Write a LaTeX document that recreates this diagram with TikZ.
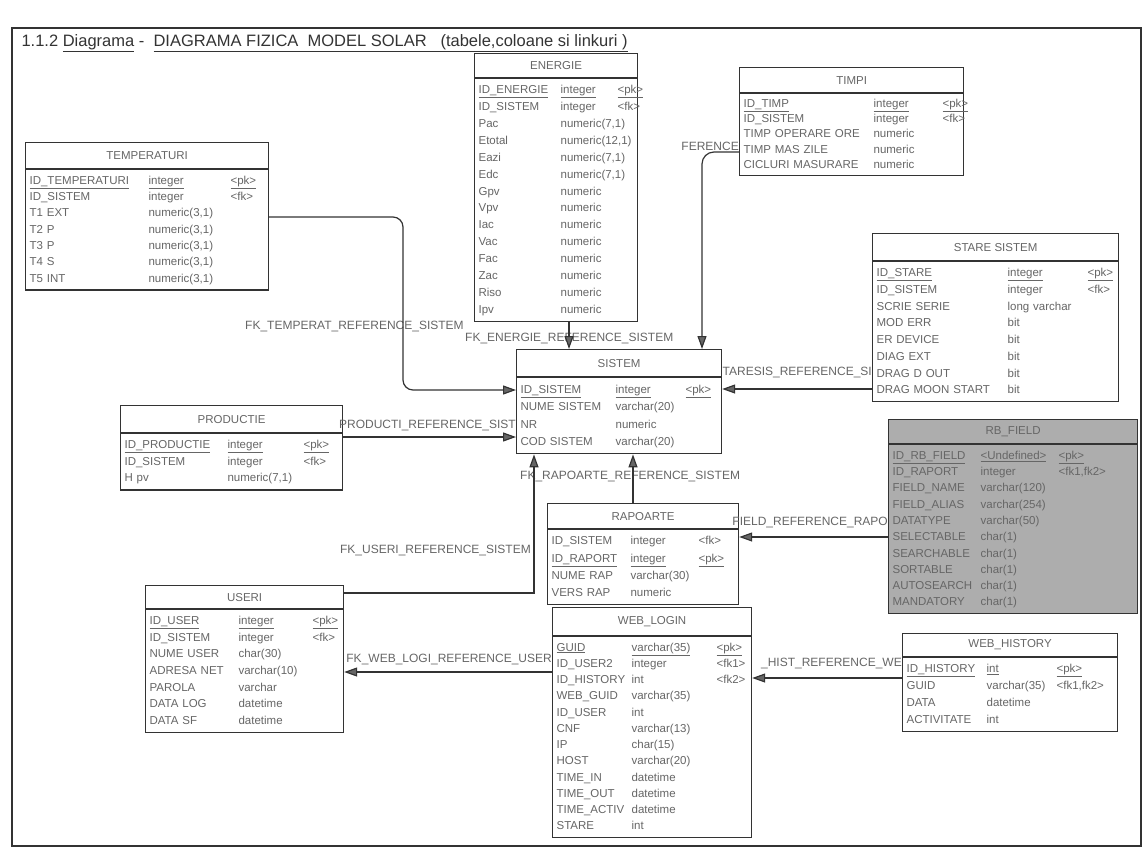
\documentclass[tikz,border=0pt]{standalone}
\usepackage{fontspec}
\setmainfont{Liberation Sans}
\usetikzlibrary{arrows.meta, positioning}
\definecolor{erline}{HTML}{333333}
\definecolor{ertext}{HTML}{666666}
\definecolor{erfill}{HTML}{ADADAD}
\setlength{\tabcolsep}{0pt}
\tikzset{
  >={Triangle[length=13pt, width=9pt, fill=black!60]},
  tblhead/.style={rectangle, draw=erline, line width=1.2pt, fill=white, anchor=north west,
                  inner sep=0pt, font=\tblfont, text=ertext},
  tblbody/.style={rectangle, draw=erline, line width=1.2pt, fill=white, inner xsep=4pt,
                  inner ysep=3pt, text=ertext, align=left},
  tblgrey/.style={fill=erfill},
  fk/.style={->, line width=1.2pt, draw=erline},
  lbl/.style={font=\lblfont, text=ertext, inner sep=0pt},
}
\newcommand{\tblfont}{\fontsize{11.5}{13}\selectfont}
\newcommand{\lblfont}{\fontsize{12}{14}\selectfont}
\newcommand{\rowfont}[1]{\fontsize{11.5}{#1}\selectfont}
\newcommand{\pk}[1]{\underline{#1}}

\begin{document}
\begin{tikzpicture}[x=1pt, y=-1pt]
  \useasboundingbox (0,0) rectangle (1143,854);
  \draw[line width=1.2pt, draw=erline] (12,28) rectangle (1141,846);
  \node[anchor=west, font=\fontsize{16.5}{19}\selectfont, text=black!80] (title) at (18,43)
    {1.1.2 \underline{Diagrama} - \ \underline{DIAGRAMA FIZICA \ MODEL SOLAR \ \ (tabele,coloane si linkuri )}};

  % tabele
  \node[tblhead, minimum width=243pt, minimum height=26pt] (temp-h) at (25,142) {TEMPERATURI};
  \node[tblbody, text width=235pt, font=\rowfont{16.3}, below=0pt of temp-h] (temp) {%
    \begin{tabular}{@{}p{119pt}p{82pt}l@{}}
    \pk{ID\_TEMPERATURI} & \pk{integer} & \pk{<pk>}\\
    ID\_SISTEM & integer & <fk>\\
    T1 EXT & numeric(3,1) &\\
    T2 P & numeric(3,1) &\\
    T3 P & numeric(3,1) &\\
    T4 S & numeric(3,1) &\\
    T5 INT & numeric(3,1) &
    \end{tabular}};

  \node[tblhead, minimum width=163pt, minimum height=24pt] (energie-h) at (474,53) {ENERGIE};
  \node[tblbody, text width=155pt, font=\rowfont{16.9}, below=0pt of energie-h] (energie) {%
    \begin{tabular}{@{}p{82pt}p{57pt}l@{}}
    \pk{ID\_ENERGIE} & \pk{integer} & \pk{<pk>}\\
    ID\_SISTEM & integer & <fk>\\
    Pac & numeric(7,1) &\\
    Etotal & numeric(12,1) &\\
    Eazi & numeric(7,1) &\\
    Edc & numeric(7,1) &\\
    Gpv & numeric &\\
    Vpv & numeric &\\
    Iac & numeric &\\
    Vac & numeric &\\
    Fac & numeric &\\
    Zac & numeric &\\
    Riso & numeric &\\
    Ipv & numeric &
    \end{tabular}};

  \node[tblhead, minimum width=224pt, minimum height=25pt] (timpi-h) at (739,67) {TIMPI};
  \node[tblbody, text width=216pt, font=\rowfont{15.2}, below=0pt of timpi-h] (timpi) {%
    \begin{tabular}{@{}p{130pt}p{69pt}l@{}}
    \pk{ID\_TIMP} & \pk{integer} & \pk{<pk>}\\
    ID\_SISTEM & integer & <fk>\\
    TIMP OPERARE ORE & numeric &\\
    TIMP MAS ZILE & numeric &\\
    CICLURI MASURARE & numeric &
    \end{tabular}};

  \node[tblhead, minimum width=246pt, minimum height=27pt] (stare-h) at (872,233) {STARE SISTEM};
  \node[tblbody, text width=238pt, font=\rowfont{16.75}, below=0pt of stare-h] (stare) {%
    \begin{tabular}{@{}p{131pt}p{80pt}l@{}}
    \pk{ID\_STARE} & \pk{integer} & \pk{<pk>}\\
    ID\_SISTEM & integer & <fk>\\
    SCRIE SERIE & long varchar &\\
    MOD ERR & bit &\\
    ER DEVICE & bit &\\
    DIAG EXT & bit &\\
    DRAG D OUT & bit &\\
    DRAG MOON START & bit &
    \end{tabular}};

  \node[tblhead, minimum width=205pt, minimum height=27pt] (sistem-h) at (516,349) {SISTEM};
  \node[tblbody, text width=197pt, font=\rowfont{17.5}, below=0pt of sistem-h] (sistem) {%
    \begin{tabular}{@{}p{95pt}p{70pt}l@{}}
    \pk{ID\_SISTEM} & \pk{integer} & \pk{<pk>}\\
    NUME SISTEM & varchar(20) &\\
    NR & numeric &\\
    COD SISTEM & varchar(20) &
    \end{tabular}};

  \node[tblhead, minimum width=222pt, minimum height=27pt] (productie-h) at (120,405) {PRODUCTIE};
  \node[tblbody, text width=214pt, font=\rowfont{16.7}, below=0pt of productie-h] (productie) {%
    \begin{tabular}{@{}p{103pt}p{76pt}l@{}}
    \pk{ID\_PRODUCTIE} & \pk{integer} & \pk{<pk>}\\
    ID\_SISTEM & integer & <fk>\\
    H pv & numeric(7,1) &
    \end{tabular}};

  \node[tblhead, tblgrey, minimum width=249pt, minimum height=24pt] (rbfield-h) at (888,419) {RB\_FIELD};
  \node[tblbody, tblgrey, text width=241pt, font=\rowfont{16.3}, below=0pt of rbfield-h] (rbfield) {%
    \begin{tabular}{@{}p{88pt}p{78pt}l@{}}
    \pk{ID\_RB\_FIELD} & \pk{<Undefined>} & \pk{<pk>}\\
    ID\_RAPORT & integer & <fk1,fk2>\\
    FIELD\_NAME & varchar(120) &\\
    FIELD\_ALIAS & varchar(254) &\\
    DATATYPE & varchar(50) &\\
    SELECTABLE & char(1) &\\
    SEARCHABLE & char(1) &\\
    SORTABLE & char(1) &\\
    AUTOSEARCH & char(1) &\\
    MANDATORY & char(1) &
    \end{tabular}};

  \node[tblhead, minimum width=191pt, minimum height=25pt] (rapoarte-h) at (547,503) {RAPOARTE};
  \node[tblbody, text width=183pt, font=\rowfont{17.2}, below=0pt of rapoarte-h] (rapoarte) {%
    \begin{tabular}{@{}p{79pt}p{68pt}l@{}}
    ID\_SISTEM & integer & <fk>\\
    \pk{ID\_RAPORT} & \pk{integer} & \pk{<pk>}\\
    NUME RAP & varchar(30) &\\
    VERS RAP & numeric &
    \end{tabular}};

  \node[tblhead, minimum width=198pt, minimum height=23pt] (useri-h) at (145,585) {USERI};
  \node[tblbody, text width=190pt, font=\rowfont{16.7}, below=0pt of useri-h] (useri) {%
    \begin{tabular}{@{}p{89pt}p{74pt}l@{}}
    \pk{ID\_USER} & \pk{integer} & \pk{<pk>}\\
    ID\_SISTEM & integer & <fk>\\
    NUME USER & char(30) &\\
    ADRESA NET & varchar(10) &\\
    PAROLA & varchar &\\
    DATA LOG & datetime &\\
    DATA SF & datetime &
    \end{tabular}};

  \node[tblhead, minimum width=199pt, minimum height=28pt] (weblogin-h) at (552,607) {WEB\_LOGIN};
  \node[tblbody, text width=191pt, font=\rowfont{16.25}, below=0pt of weblogin-h] (weblogin) {%
    \begin{tabular}{@{}p{75pt}p{85pt}l@{}}
    \pk{GUID} & \pk{varchar(35)} & \pk{<pk>}\\
    ID\_USER2 & integer & <fk1>\\
    ID\_HISTORY & int & <fk2>\\
    WEB\_GUID & varchar(35) &\\
    ID\_USER & int &\\
    CNF & varchar(13) &\\
    IP & char(15) &\\
    HOST & varchar(20) &\\
    TIME\_IN & datetime &\\
    TIME\_OUT & datetime &\\
    TIME\_ACTIV & datetime &\\
    STARE & int &
    \end{tabular}};

  \node[tblhead, minimum width=215pt, minimum height=23pt] (webhistory-h) at (902,633) {WEB\_HISTORY};
  \node[tblbody, text width=207pt, font=\rowfont{17}, below=0pt of webhistory-h] (webhistory) {%
    \begin{tabular}{@{}p{80pt}p{70pt}l@{}}
    \pk{ID\_HISTORY} & \pk{int} & \pk{<pk>}\\
    GUID & varchar(35) & <fk1,fk2>\\
    DATA & datetime &\\
    ACTIVITATE & int &
    \end{tabular}};

  % etichete legaturi
  \node[lbl, anchor=west] (lTemp) at (245,326) {FK\_TEMPERAT\_REFERENCE\_SISTEM};
  \node[lbl, anchor=west] (lEnergie) at (465,338) {FK\_ENERGIE\_REFERENCE\_SISTEM};
  \node[lbl, anchor=east] (lTimpi) at (timpi.west |- 0,146) {FERENCE};
  \node[lbl, anchor=east] (lStare) at (stare.west |- 0,372) {TARESIS\_REFERENCE\_SI};
  \node[lbl, anchor=east] (lProd) at (sistem.west |- 0,425) {PRODUCTI\_REFERENCE\_SIST};
  \node[lbl, anchor=west] (lRap) at (520,476) {FK\_RAPOARTE\_REFERENCE\_SISTEM};
  \node[lbl, anchor=east] (lField) at (rbfield.west |- 0,522) {FIELD\_REFERENCE\_RAPO};
  \node[lbl, anchor=east] (lUseri) at (531,550) {FK\_USERI\_REFERENCE\_SISTEM};
  \node[lbl, anchor=east] (lWeb) at (weblogin.west |- 0,659) {FK\_WEB\_LOGI\_REFERENCE\_USER};
  \node[lbl, anchor=east] (lHist) at (webhistory.west |- 0,663) {\_HIST\_REFERENCE\_WE};

  % legaturi
  \draw[fk, rounded corners=10pt] (temp.east |- 0,217) -- (403,217) -- (403,390) -- (sistem.west |- 0,390);
  \draw[fk] (energie.south -| 569,0) -- (sistem-h.north -| 569,0);
  \draw[fk, rounded corners=12pt] (timpi.west |- 0,152) -- (702,152) -- (sistem-h.north -| 702,0);
  \draw[fk] (stare.west |- 0,389) -- (sistem.east |- 0,389);
  \draw[fk] (productie.east |- 0,437) -- (sistem.west |- 0,437);
  \draw[fk] (rapoarte-h.north -| 633,0) -- (sistem.south -| 633,0);
  \draw[fk] (useri-h.east |- 0,593) -- (534,593) -- (sistem.south -| 534,0);
  \draw[fk] (rbfield.west |- 0,537) -- (rapoarte.east |- 0,537);
  \draw[fk] (weblogin.west |- 0,672) -- (useri.east |- 0,672);
  \draw[fk] (webhistory.west |- 0,678) -- (weblogin.east |- 0,678);
\end{tikzpicture}
\end{document}
